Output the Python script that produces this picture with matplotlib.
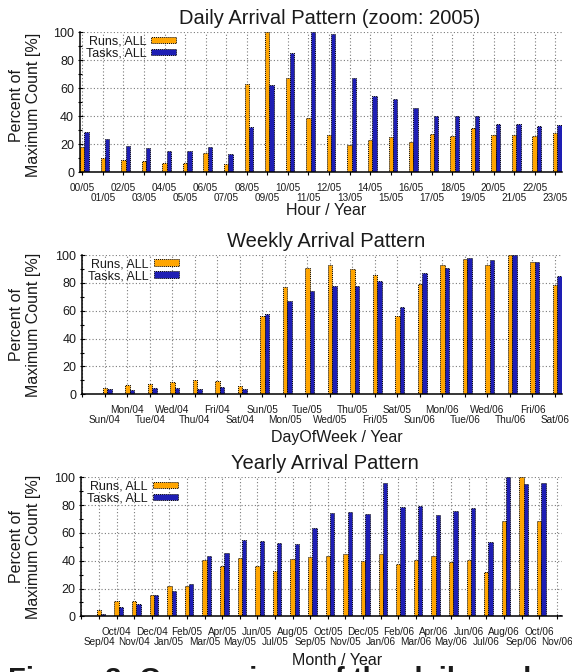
import matplotlib
matplotlib.use('Agg')
import matplotlib.pyplot as plt
import numpy as np

plt.rcParams['font.family'] = ['Liberation Sans', 'DejaVu Sans']

# ---------------- data ----------------
daily_labels = ['00/05', '01/05', '02/05', '03/05', '04/05', '05/05', '06/05', '07/05',
                '08/05', '09/05', '10/05', '11/05', '12/05', '13/05', '14/05', '15/05',
                '16/05', '17/05', '18/05', '19/05', '20/05', '21/05', '22/05', '23/05']
daily_runs = [18.3, 10.5, 8.8, 8.0, 7.0, 7.0, 14.0, 5.7, 63.0, 100.0, 67.0, 38.6,
              26.6, 19.5, 23.0, 25.0, 21.6, 27.4, 26.0, 31.4, 27.0, 27.0, 26.0, 28.0]
daily_tasks = [29.0, 24.0, 19.0, 17.6, 15.2, 15.0, 18.0, 13.0, 32.4, 62.4, 85.0, 100.0,
               98.6, 67.5, 54.5, 52.0, 46.0, 40.0, 40.0, 40.0, 34.5, 34.5, 33.0, 34.0]

weekly_labels = ['', 'Sun/04', 'Mon/04', 'Tue/04', 'Wed/04', 'Thu/04', 'Fri/04', 'Sat/04',
                 'Sun/05', 'Mon/05', 'Tue/05', 'Wed/05', 'Thu/05', 'Fri/05', 'Sat/05',
                 'Sun/06', 'Mon/06', 'Tue/06', 'Wed/06', 'Thu/06', 'Fri/06', 'Sat/06']
weekly_runs = [0.4, 4.8, 6.7, 7.7, 8.9, 10.3, 9.8, 5.7, 56.0, 77.3, 90.4, 92.6, 90.0,
               86.0, 56.2, 79.2, 92.8, 97.0, 93.0, 100.0, 94.7, 78.5]
weekly_tasks = [0.3, 3.8, 3.3, 4.3, 4.8, 4.1, 5.0, 3.6, 57.4, 67.0, 74.0, 77.5, 77.5,
                81.0, 62.4, 86.8, 90.4, 98.0, 96.4, 100.0, 95.2, 85.0]

monthly_labels = ['', 'Sep/04', 'Oct/04', 'Nov/04', 'Dec/04', 'Jan/05', 'Feb/05', 'Mar/05',
                  'Apr/05', 'May/05', 'Jun/05', 'Jul/05', 'Aug/05', 'Sep/05', 'Oct/05',
                  'Nov/05', 'Dec/05', 'Jan/06', 'Feb/06', 'Mar/06', 'Apr/06', 'May/06',
                  'Jun/06', 'Jul/06', 'Aug/06', 'Sep/06', 'Oct/06', 'Nov/06']
monthly_runs = [0.3, 4.6, 11.0, 11.0, 15.3, 22.0, 22.0, 40.8, 36.2, 42.2, 36.2, 32.6, 41.0,
                43.0, 43.4, 44.8, 40.0, 44.8, 37.9, 40.3, 43.2, 38.8, 40.8, 31.9, 68.8,
                100.0, 68.8, 0.0]
monthly_tasks = [0.3, 2.0, 6.7, 8.9, 15.1, 18.2, 23.3, 43.4, 45.8, 55.0, 54.4, 52.5, 52.0,
                 63.3, 74.3, 75.3, 73.6, 96.2, 78.4, 79.6, 72.7, 76.0, 78.2, 53.2, 100.0,
                 95.2, 95.7, 0.7]

series_names = ['Runs, ALL', 'Tasks, ALL']
ylabel_text = 'Percent of\nMaximum Count [%]'

# ---------------- style ----------------
TEXT = '#1a1a1a'
ORANGE = '#FFA500'
BLUE = '#1E1EB4'
W, H = 572, 672

fig = plt.figure(figsize=(W / 100, H / 100), dpi=100)


def px_rect(left, top, right, bottom):
    return [left / W, 1 - bottom / H, (right - left) / W, (bottom - top) / H]


def panel(rect, labels, runs, tasks, width, xlim, title, title_x, xlabel,
          xlabel_xy, ylabel_xy):
    ax = fig.add_axes(rect)
    x = np.arange(len(labels))
    for vals, off, col, name in ((runs, 0.0, ORANGE, series_names[0]),
                                 (tasks, width, BLUE, series_names[1])):
        ax.bar(x + off, vals, width, color=col, edgecolor='black', linewidth=0.7,
               linestyle=(0, (1, 1)), label=name, zorder=3)
    ax.set_xlim(*xlim)
    ax.set_ylim(0, 100)
    even = x[::2]
    odd = x[1::2]
    ax.set_xticks(even, [labels[i] for i in even])
    ax.set_xticks(odd, [labels[i] for i in odd], minor=True)
    ax.set_yticks([0, 20, 40, 60, 80, 100])
    ax.set_yticks([10, 30, 50, 70, 90], minor=True)
    ax.tick_params(axis='x', which='major', direction='inout', length=3.6, width=0.8,
                   pad=6.1, labelsize=7.2, labelcolor=TEXT)
    ax.tick_params(axis='x', which='minor', direction='inout', length=3.6, width=0.8,
                   pad=13.4, labelsize=7.2, labelcolor=TEXT)
    ax.tick_params(axis='y', which='major', direction='inout', length=3.6, width=0.8,
                   pad=2.5, labelsize=9, labelcolor=TEXT)
    ax.tick_params(axis='y', which='minor', direction='inout', length=2.2, width=0.8)
    for s in ('top', 'right'):
        ax.spines[s].set_visible(False)
    for s in ('left', 'bottom'):
        ax.spines[s].set_linewidth(1.1)
        ax.spines[s].set_zorder(4)
    ax.grid(which='both', axis='x', color='#7a7a7a', linestyle=(0, (1, 2)), linewidth=0.8,
            zorder=0)
    ax.grid(which='major', axis='y', color='#7a7a7a', linestyle=(0, (1, 2)), linewidth=0.8,
            zorder=0)
    ax.set_axisbelow(True)
    ax.set_title(title, fontsize=14.5, color=TEXT, x=title_x, pad=6)
    ax.set_xlabel(xlabel, fontsize=11.5, color=TEXT)
    ax.xaxis.set_label_coords(*xlabel_xy)
    ax.set_ylabel(ylabel_text, fontsize=11.5, color=TEXT, linespacing=1.15)
    ax.yaxis.set_label_coords(*ylabel_xy)
    ax.legend(loc='upper left', bbox_to_anchor=(0.012, 0.978), markerfirst=False,
              frameon=False, fontsize=9, handlelength=2.0, handleheight=0.45,
              labelspacing=0.0, handletextpad=0.4, borderaxespad=0, borderpad=0,
              labelcolor=TEXT)
    return ax


panel(px_rect(80, 32.3, 562, 172.3), daily_labels, daily_runs, daily_tasks, 0.21,
      (-0.11, 23.33), 'Daily Arrival Pattern (zoom: 2005)', 0.517, 'Hour / Year',
      (0.51, -0.219), (-0.081, 0.48))
panel(px_rect(82.3, 255, 561.7, 394.3), weekly_labels, weekly_runs, weekly_tasks, 0.20,
      (0, 21.3), 'Weekly Arrival Pattern', 0.508, 'DayOfWeek / Year',
      (0.53, -0.256), (-0.087, 0.5))
panel(px_rect(81.3, 477.3, 561.7, 616.3), monthly_labels, monthly_runs, monthly_tasks, 0.245,
      (0, 27.28), 'Yearly Arrival Pattern', 0.508, 'Month / Year',
      (0.532, -0.264), (-0.0845, 0.5))

fig.text(8 / W, -0.0235, 'Figure 3: Comparison of the daily and weekly arrival patterns',
         fontsize=21, fontweight='bold', color=TEXT, ha='left', va='baseline')

fig.savefig('out.png', dpi=100)
